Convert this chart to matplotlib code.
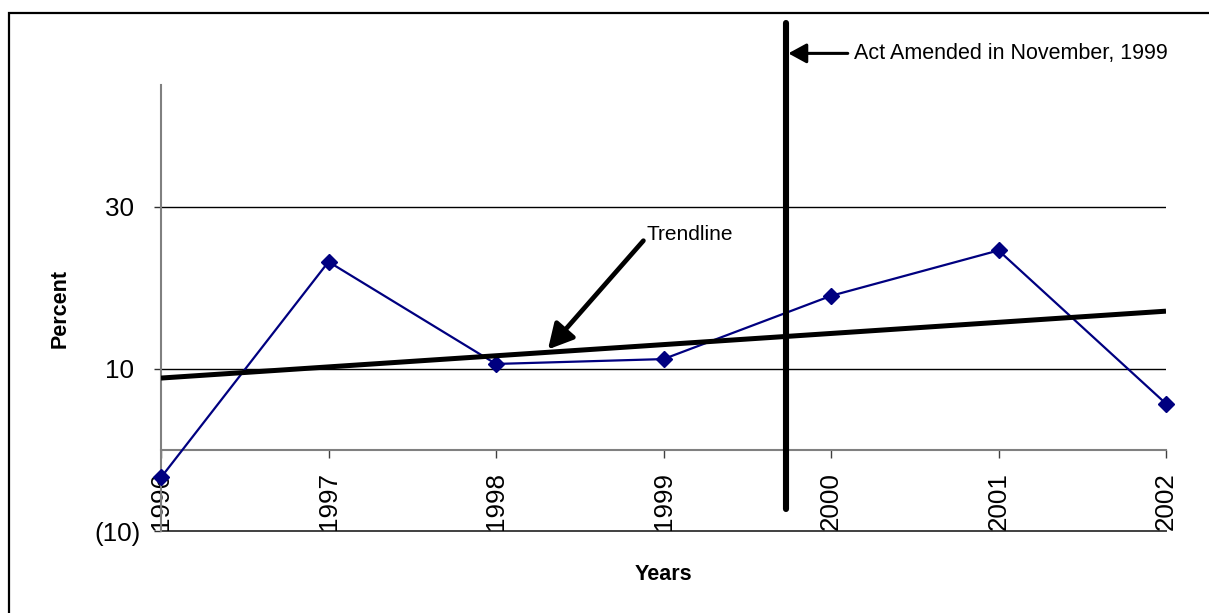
import numpy as np
import matplotlib
matplotlib.use("Agg")
import matplotlib.pyplot as plt
from matplotlib.patches import Rectangle
from matplotlib.ticker import FuncFormatter

plt.rcParams['font.family'] = ['Liberation Sans', 'DejaVu Sans']

# Annual percentage change
years = [1996, 1997, 1998, 1999, 2000, 2001, 2002]
percent = [-3.4, 23.2, 10.6, 11.2, 19.0, 24.6, 5.7]
y_ticks = [-10, 10, 30]

amend_x = 1999.73          # Act amended in November, 1999
amend_label = "Act Amended in November, 1999"
trend_label = "Trendline"

W, H = 1209, 613
fig = plt.figure(figsize=(W / 100, H / 100), dpi=100)
ax = fig.add_axes([161 / W, 1 - 531 / H, (1166 - 161) / W, (531 - 85) / H])

ax.set_xlim(years[0], years[-1])
ax.set_ylim(-10, 45)

# gridlines and the bottom line at -10
for v in (10, 30):
    ax.axhline(v, color='black', lw=1.0, zorder=1)
ax.axhline(-10, color='#404040', lw=1.4, zorder=1, clip_on=False)

# series
ax.plot(years, percent, color='#000080', lw=1.6, marker='D', ms=8,
        mfc='#000080', mec='#000080', zorder=3, clip_on=False)

# least-squares trendline
slope, intercept = np.polyfit(years, percent, 1)
tx = np.array([years[0], years[-1]], dtype=float)
ax.plot(tx, slope * tx + intercept, color='black', lw=3.6, zorder=4,
        solid_capstyle='butt')

# amendment marker line
ax.plot([amend_x, amend_x], [-7.3, 52.7], color='black', lw=4.4,
        solid_capstyle='round', zorder=5, clip_on=False)

# amendment label with arrow
ax.annotate('', xy=(amend_x + 0.015, 48.9), xytext=(amend_x + 0.37, 48.9),
            arrowprops=dict(arrowstyle='-|>,head_length=0.55,head_width=0.3',
                            mutation_scale=20, lw=2.2, color='black',
                            shrinkA=0, shrinkB=0),
            annotation_clip=False, zorder=6)
ax.text(amend_x + 0.405, 48.9, amend_label, fontsize=15.5, ha='left',
        va='center', clip_on=False)

# trendline label with arrow
tip_x = 1998.31
ax.annotate('', xy=(tip_x, slope * tip_x + intercept + 0.35),
            xytext=(1998.88, 25.8),
            arrowprops=dict(arrowstyle='-|>,head_length=0.75,head_width=0.4',
                            mutation_scale=20, lw=3.4, color='black',
                            shrinkA=0, shrinkB=0),
            zorder=6)
ax.text(1998.9, 25.9, trend_label, fontsize=15, ha='left', va='baseline')

# axes styling
for s in ('top', 'right'):
    ax.spines[s].set_visible(False)
ax.spines['left'].set_color('#808080')
ax.spines['left'].set_linewidth(1.5)
ax.spines['bottom'].set_position(('data', 0))
ax.spines['bottom'].set_color('#808080')
ax.spines['bottom'].set_linewidth(1.5)

ax.set_yticks(y_ticks)
ax.yaxis.set_major_formatter(FuncFormatter(
    lambda v, p: f"({abs(int(v))})" if v < 0 else f"{int(v)} "))
ax.tick_params(axis='y', direction='out', length=5, width=1.0,
               color='#303030', pad=9.5, labelsize=18.7)

ax.set_xticks(years)
ax.set_xticklabels([str(y) for y in years], rotation=90, ha='center', va='top')
ax.tick_params(axis='x', direction='out', length=6, width=1.0,
               color='#404040', pad=10, labelsize=18.7)

ax.set_xlabel("Years", fontsize=15.5, fontweight='bold')
ax.xaxis.set_label_coords(0.5, (531 - 575) / 446)
ax.xaxis.label.set_va('center')
ax.set_ylabel("Percent", fontsize=15.5, fontweight='bold')
ax.yaxis.set_label_coords((60 - 161) / 1005, 0.5)
ax.yaxis.label.set_va('center')

# outer frame
fig.add_artist(Rectangle((9 / W, -0.2), 1.5, 1 - 13 / H + 0.2,
                         transform=fig.transFigure, fill=False,
                         edgecolor='black', lw=1.6, clip_on=False))

fig.savefig("out.png", dpi=100)
